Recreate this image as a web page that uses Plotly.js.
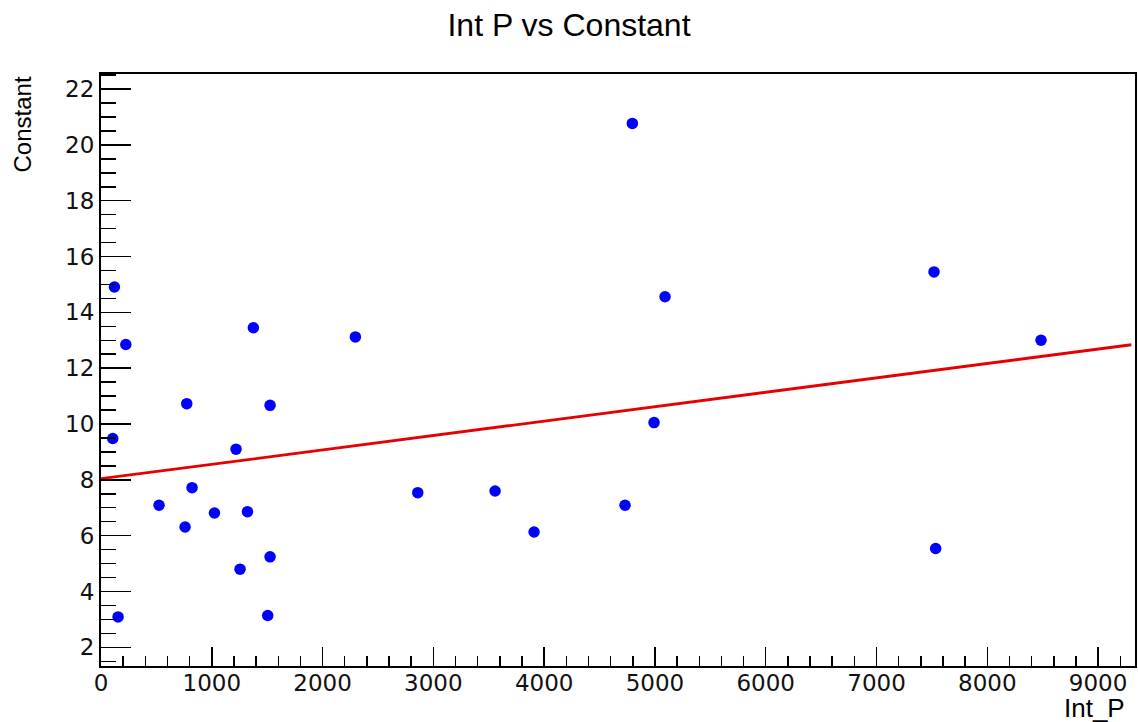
<!DOCTYPE html>
<html>
<head>
<meta charset="utf-8">
<script src="https://cdn.plot.ly/plotly-3.0.1.min.js"></script>
<style>html,body{margin:0;padding:0;background:#fff;}#chart{width:1138px;height:722px;}</style>
</head>
<body>
<div id="chart"></div>
<script>
const intP = [121, 224, 1375, 2296, 774, 1526, 106, 1219, 822, 524, 1024, 1322, 759, 1255, 1526, 154, 1505, 2859, 3557, 3909, 4730, 4796, 4992, 5091, 7519, 7534, 8485];
const constant = [14.91, 12.85, 13.45, 13.12, 10.73, 10.67, 9.48, 9.10, 7.72, 7.09, 6.81, 6.86, 6.31, 4.80, 5.24, 3.09, 3.14, 7.54, 7.60, 6.13, 7.09, 20.77, 10.05, 14.56, 15.45, 5.54, 13.00];
const fitX = [0, 9300];
const fitY = [8.04, 12.84];
const titleText = "Int P vs Constant";
const xTitle = "Int_P";
const yTitle = "Constant";

const FONT = "Liberation Sans, Arial, Helvetica, sans-serif";
const TICKFONT = "DejaVu Sans, Liberation Sans, sans-serif";

const traces = [
  {x: fitX, y: fitY, type: "scatter", mode: "lines",
   line: {color: "#e60000", width: 2.8}, hoverinfo: "skip"},
  {x: intP, y: constant, type: "scatter", mode: "markers",
   marker: {color: "#0000ff", size: 11.5, line: {width: 0}}}
];

const layout = {
  width: 1138, height: 722,
  paper_bgcolor: "#ffffff", plot_bgcolor: "#ffffff",
  margin: {l: 101, r: 3, t: 74, b: 56, pad: 0},
  showlegend: false,
  font: {family: FONT, color: "#000"},
  title: {text: titleText, font: {family: FONT, size: 32, color: "#000"},
          xref: "container", x: 0.5, xanchor: "center",
          yref: "container", y: 1 - 25/722, yanchor: "middle"},
  xaxis: {range: [0, 9333], showgrid: false, zeroline: false,
          showline: true, linecolor: "#000", linewidth: 2, mirror: true,
          ticks: "inside", ticklen: 19, tickwidth: 1.5, tickcolor: "#000",
          tick0: 0, dtick: 1000, ticklabelstandoff: -5,
          minor: {ticks: "inside", ticklen: 10, tickwidth: 1.5, tickcolor: "#000", dtick: 200, showgrid: false},
          tickfont: {family: TICKFONT, size: 23, color: "#111"}},
  yaxis: {range: [1.33, 22.54], showgrid: false, zeroline: false,
          showline: true, linecolor: "#000", linewidth: 2, mirror: true,
          ticks: "inside", ticklen: 30, tickwidth: 1.5, tickcolor: "#000",
          tick0: 0, dtick: 2,
          minor: {ticks: "inside", ticklen: 15, tickwidth: 1.5, tickcolor: "#000", dtick: 0.5, showgrid: false},
          tickfont: {family: TICKFONT, size: 23, color: "#111"}},
  annotations: [
    {text: yTitle, textangle: -90, showarrow: false,
     xref: "paper", x: 0, xanchor: "right", xshift: -64,
     yref: "paper", y: 1, yanchor: "top", yshift: -1,
     font: {family: FONT, size: 24, color: "#000"}},
    {text: xTitle, showarrow: false,
     xref: "paper", x: 1, xanchor: "right", xshift: -8,
     yref: "paper", y: 0, yanchor: "top", yshift: -25,
     font: {family: FONT, size: 26, color: "#000"}}
  ]
};

Plotly.newPlot("chart", traces, layout, {displayModeBar: false, staticPlot: true});
</script>
</body>
</html>
